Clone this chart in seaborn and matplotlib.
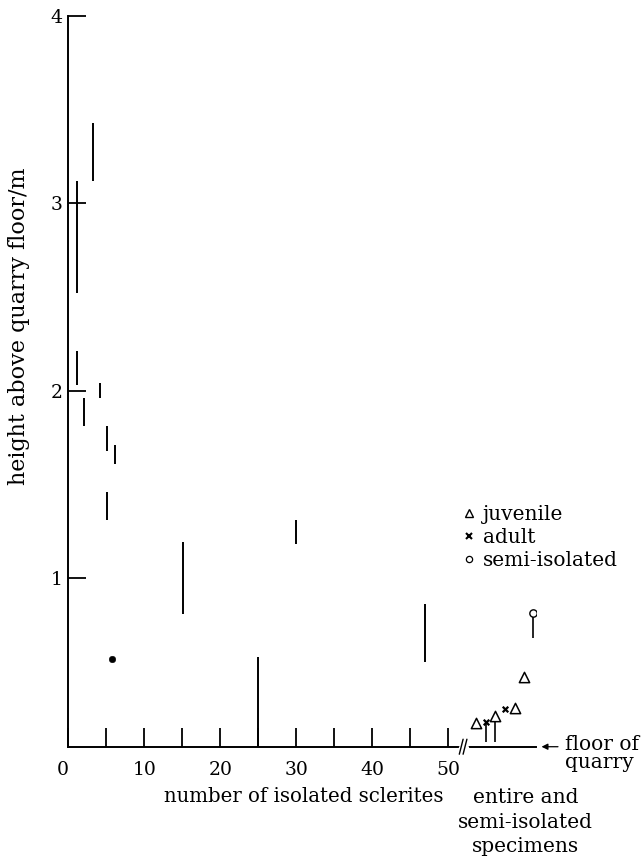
import matplotlib
matplotlib.use("Agg")
import matplotlib.pyplot as plt
import seaborn as sns
import pandas as pd
from matplotlib.lines import Line2D

# isolated sclerites: x = number of sclerites, vertical range in m above quarry floor
sclerite_n = [1.2, 3.2, 1.2, 2.1, 4.2, 5.1, 6.1, 5.05, 15.1, 25.0, 30.0, 46.9]
sclerite_lo = [2.52, 3.12, 2.03, 1.81, 1.96, 1.68, 1.61, 1.31, 0.81, 0.10, 1.18, 0.55]
sclerite_hi = [3.12, 3.43, 2.21, 1.96, 2.04, 1.81, 1.71, 1.46, 1.19, 0.58, 1.31, 0.86]

# single point level
dot_n = [5.8]
dot_h = [0.57]

# entire and semi-isolated specimens (placed right of the axis break)
juvenile_x = [53.6, 56.2, 58.8, 60.0]
juvenile_h = [0.228, 0.264, 0.305, 0.474]
adult_x = [54.9, 57.5]
adult_h = [0.234, 0.30]
semi_x = [61.1]
semi_h = [0.814]

# stems below some specimens
stem_x = [54.9, 56.2, 61.1]
stem_lo = [0.125, 0.125, 0.68]
stem_hi = [0.234, 0.25, 0.80]

x_major = [0, 10, 20, 30, 40, 50]
x_minor = [5, 15, 25, 35, 45]
y_ticks = [1, 2, 3, 4]

FLOOR = 0.1
BREAK_X = 51.7
FONT = ["DejaVu Serif"]


def setup_style():
    sns.set_theme(style="ticks")
    plt.rcParams["font.family"] = FONT
    plt.rcParams["font.size"] = 12
    plt.rcParams["text.color"] = "black"
    plt.rcParams["axes.labelcolor"] = "black"
    plt.rcParams["xtick.color"] = "black"
    plt.rcParams["ytick.color"] = "black"


def create_figure():
    fig = plt.figure(figsize=(6.42, 8.58), dpi=100, facecolor="white")
    ax = fig.add_axes([0.1064, 0.1297, 0.728, 0.852])
    return fig, ax


def plot_ranges(ax):
    ax.vlines(sclerite_n, sclerite_lo, sclerite_hi, color="black", linewidth=1.4)
    ax.vlines(stem_x, stem_lo, stem_hi, color="black", linewidth=1.2)
    sns.scatterplot(x=dot_n, y=dot_h, color="black", s=22, edgecolor="black", ax=ax, zorder=3)


def plot_specimens(ax):
    sns.scatterplot(x=juvenile_x, y=juvenile_h, marker="^", s=55, facecolor="white",
                    edgecolor="black", linewidth=1.1, ax=ax, zorder=4)
    sns.scatterplot(x=adult_x, y=adult_h, marker="x", s=16, color="black",
                    linewidth=1.6, ax=ax, zorder=4)
    sns.scatterplot(x=semi_x, y=semi_h, marker="o", s=28, facecolor="white",
                    edgecolor="black", linewidth=1.0, ax=ax, zorder=4)


def style_axes(ax):
    ax.set_xlim(0, 61.5)
    ax.set_ylim(FLOOR, 4.0)
    for side in ["top", "right"]:
        ax.spines[side].set_visible(False)
    for side in ["left", "bottom"]:
        ax.spines[side].set_linewidth(1.4)
        ax.spines[side].set_color("black")
    ax.set_xticks(x_major)
    ax.set_xticks(x_minor, minor=True)
    ax.set_xticklabels([str(v) for v in x_major], fontsize=13.5)
    ax.get_xticklabels()[0].set_horizontalalignment("right")
    ax.set_yticks(y_ticks)
    ax.set_yticklabels([str(v) for v in y_ticks], fontsize=13.5)
    ax.tick_params(axis="x", which="both", direction="in", length=14, width=1.3,
                   color="black", pad=10, labelcolor="black")
    ax.tick_params(axis="y", direction="in", length=13, width=1.3,
                   color="black", pad=4, labelcolor="black")
    ax.grid(False)


def add_break(ax):
    # little double slash on the x axis
    ax.plot([BREAK_X - 0.15, BREAK_X + 0.8], [FLOOR, FLOOR], color="white",
            linewidth=2.4, clip_on=False, zorder=4)
    for dx in (0.0, 0.5):
        ax.plot([BREAK_X - 0.25 + dx, BREAK_X + 0.25 + dx], [FLOOR - 0.04, FLOOR + 0.04],
                color="black", linewidth=1.0, clip_on=False, zorder=5)


def add_labels(ax):
    ax.set_ylabel("height above quarry floor/m", fontsize=16, color="black")
    ax.yaxis.set_label_coords(-0.082, 0.575)
    ax.text(31.0, -0.168, "number of isolated sclerites", fontsize=14.2, ha="center",
            va="center", color="black")
    ax.text(60.2, -0.122, "entire and\nsemi-isolated\nspecimens", fontsize=14.5,
            ha="center", va="top", color="black", linespacing=1.36)
    ax.annotate("", xy=(61.9, FLOOR), xytext=(64.8, FLOOR),
                arrowprops=dict(arrowstyle="-|>", color="black", lw=0.9,
                                mutation_scale=9), annotation_clip=False)
    ax.text(65.3, 0.083, "floor of", fontsize=14.5, ha="left", va="baseline")
    ax.text(65.3, -0.013, "quarry", fontsize=14.5, ha="left", va="baseline")


def add_legend(ax):
    handles = [
        Line2D([], [], marker="^", linestyle="none", markersize=6, markerfacecolor="white",
               markeredgecolor="black", markeredgewidth=1.0),
        Line2D([], [], marker="x", linestyle="none", markersize=4, color="black",
               markeredgewidth=1.5),
        Line2D([], [], marker="o", linestyle="none", markersize=4.5, markerfacecolor="white",
               markeredgecolor="black", markeredgewidth=0.9),
    ]
    labels = ["juvenile", "adult", "semi-isolated"]
    leg = ax.legend(handles, labels, loc="upper left", bbox_to_anchor=(0.842, 0.331),
                    frameon=False, fontsize=14.5, handlelength=0.7, handletextpad=0.35,
                    labelspacing=0.2, borderpad=0, borderaxespad=0)
    for text in leg.get_texts():
        text.set_color("black")


def sclerite_chart():
    setup_style()
    fig, ax = create_figure()
    plot_ranges(ax)
    plot_specimens(ax)
    style_axes(ax)
    add_break(ax)
    add_labels(ax)
    add_legend(ax)
    fig.savefig("out.png", dpi=100, facecolor="white")


sclerite_chart()
